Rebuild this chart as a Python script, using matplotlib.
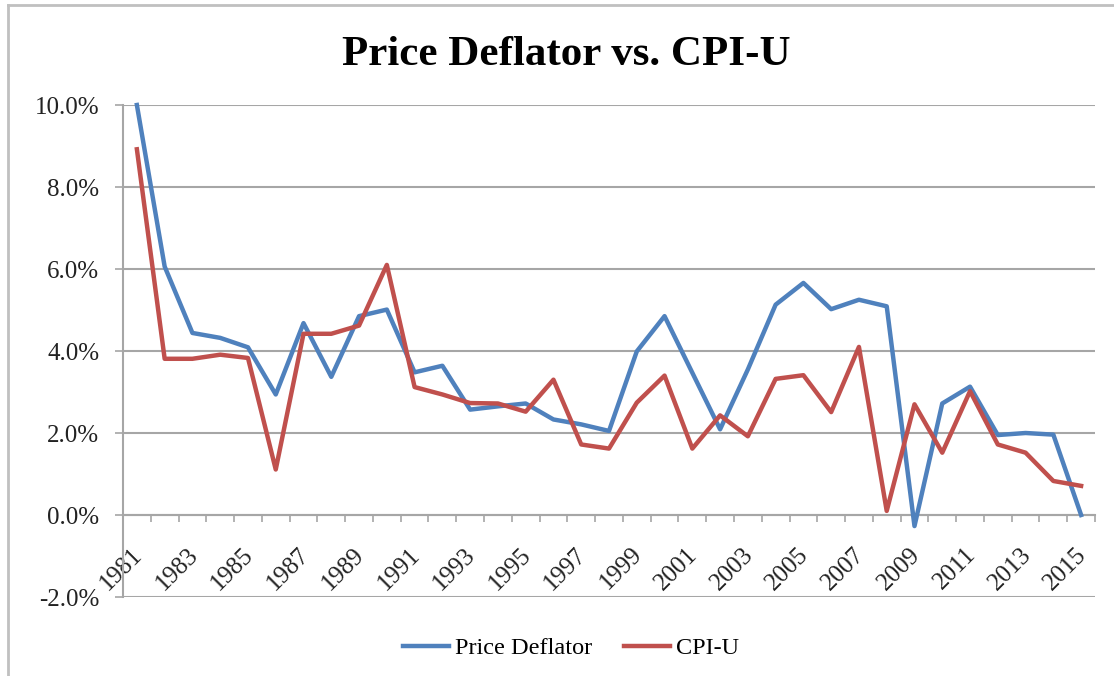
import numpy as np
import matplotlib
matplotlib.use("Agg")
import matplotlib.pyplot as plt
from matplotlib.ticker import FuncFormatter, MultipleLocator
from matplotlib.transforms import ScaledTranslation
from matplotlib.lines import Line2D


# DATA #

Years = list(range(1981, 2016))

PriceDeflator = [10.0, 6.06, 4.44, 4.32, 4.09, 2.94, 4.68, 3.37, 4.85, 5.01,
                 3.48, 3.64, 2.57, 2.65, 2.72, 2.33, 2.21, 2.05, 3.99, 4.85,
                 3.47, 2.09, 3.55, 5.13, 5.66, 5.02, 5.25, 5.09, -0.27, 2.72,
                 3.13, 1.95, 2.00, 1.96, 0.0]

CPI_U = [8.92, 3.81, 3.81, 3.91, 3.83, 1.11, 4.42, 4.42, 4.62, 6.10,
         3.12, 2.94, 2.73, 2.72, 2.52, 3.30, 1.72, 1.62, 2.74, 3.40,
         1.62, 2.43, 1.92, 3.32, 3.41, 2.51, 4.10, 0.10, 2.70, 1.52,
         3.02, 1.72, 1.52, 0.83, 0.71]

TickYears = Years[::2]

BLUE = '#4F81BD'
RED = '#C0504D'
GRID = '#a6a6a6'

plt.rcParams['font.family'] = ['Liberation Serif', 'DejaVu Serif']


# FIGURE #

fig = plt.figure(figsize=(11.14, 6.76), dpi=100)
ax = fig.add_axes([123/1114, 1 - 597/676, (1095 - 123)/1114, (597 - 105)/676])

ax.plot(Years, PriceDeflator, color=BLUE, lw=3.2, label='Price Deflator', clip_on=False, zorder=3)
ax.plot(Years, CPI_U, color=RED, lw=3.2, label='CPI-U', clip_on=False, zorder=3)

ax.set_xlim(1980.5, 2015.5)
ax.set_ylim(-2, 10)

# y axis
ax.yaxis.set_major_locator(MultipleLocator(2))
ax.yaxis.set_major_formatter(FuncFormatter(lambda v, p: f'{v:.1f}%'))
ax.grid(axis='y', color=GRID, lw=1.5)
ax.set_axisbelow(True)
ax.tick_params(axis='y', length=6, width=1.2, color=GRID, pad=11, labelsize=18, labelcolor='#222222')

# x axis sits on 0 %
for s in ('top', 'right'):
    ax.spines[s].set_visible(False)
ax.spines['left'].set_color(GRID)
ax.spines['left'].set_linewidth(1.5)
ax.spines['bottom'].set_position(('data', 0))
ax.spines['bottom'].set_color(GRID)
ax.spines['bottom'].set_linewidth(1.5)
ax.spines['bottom'].set_zorder(2)

ax.set_xticks(TickYears)
ax.set_xticklabels([str(y) for y in TickYears])
ax.set_xticks(np.arange(1980.5, 2016, 1), minor=True)
ax.tick_params(axis='x', which='major', length=0, pad=26, labelsize=18, labelcolor='#222222')
ax.tick_params(axis='x', which='minor', length=5, width=1.2, color=GRID)

shift = ScaledTranslation(2/100, 0, fig.dpi_scale_trans)
for lab in ax.get_xticklabels():
    lab.set_rotation(45)
    lab.set_rotation_mode('anchor')
    lab.set_ha('right')
    lab.set_va('center')
    lab.set_transform(lab.get_transform() + shift)

# title
fig.text(566/1114, 1 - 55/676, 'Price Deflator vs. CPI-U', ha='center', va='center',
         fontsize=31, fontweight='bold')

# legend
handles = [Line2D([], [], color=BLUE, lw=3.2), Line2D([], [], color=RED, lw=3.2)]
fig.legend(handles, ['Price Deflator', 'CPI-U'], loc='center', bbox_to_anchor=(571/1114, 1 - 648/676),
           ncol=2, frameon=False, fontsize=17.5, handlelength=1.9, columnspacing=1.3, handletextpad=0.25)

# outer chart frame
fig.add_artist(Line2D([8/1114, 8/1114], [0, 1 - 5/676], color='#c0c0c0', lw=2, transform=fig.transFigure))
fig.add_artist(Line2D([8/1114, 1], [1 - 5/676, 1 - 5/676], color='#c0c0c0', lw=2, transform=fig.transFigure))

fig.savefig('out.png', dpi=100)
